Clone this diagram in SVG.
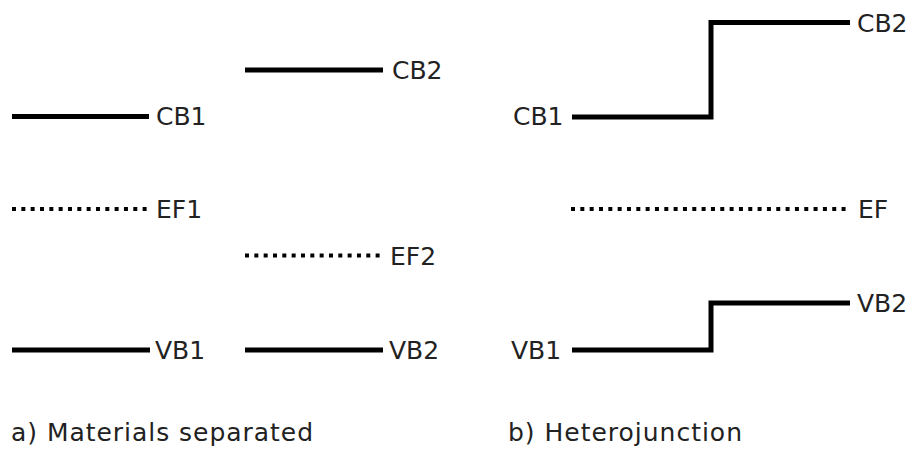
<svg xmlns="http://www.w3.org/2000/svg" width="915" height="451" viewBox="0 0 915 451">
<style>
.band{fill:none;stroke:#000;stroke-width:5;stroke-linejoin:miter}
.fermi{fill:none;stroke:#000;stroke-width:4;stroke-dasharray:4 5.33}
text{font-family:"DejaVu Sans",sans-serif;font-size:25px;fill:#222}
</style>
<rect width="915" height="451" fill="#fff"/>
<g id="connectors">
<line id="cb1-a" class="band" x1="12" y1="116.5" x2="149" y2="116.5"/>
<line id="cb2-a" class="band" x1="245" y1="70" x2="383" y2="70"/>
<line id="ef1-a" class="fermi" x1="12" y1="209" x2="148" y2="209"/>
<line id="ef2-a" class="fermi" x1="245" y1="255.5" x2="381" y2="255.5"/>
<line id="vb1-a" class="band" x1="12" y1="350" x2="150" y2="350"/>
<line id="vb2-a" class="band" x1="245" y1="350" x2="383" y2="350"/>
<polyline id="cb-b" class="band" points="572,117 711,117 711,22.5 850,22.5"/>
<line id="ef-b" class="fermi" x1="571" y1="209" x2="847" y2="209"/>
<polyline id="vb-b" class="band" points="572,350 711,350 711,303 850,303"/>
</g>
<g id="labels-a">
<text x="156" y="125">CB1</text>
<text x="392" y="79">CB2</text>
<text x="156" y="218">EF1</text>
<text x="390" y="265">EF2</text>
<text x="155" y="359">VB1</text>
<text x="389" y="359">VB2</text>
<text x="11" y="441" textLength="302" lengthAdjust="spacing">a) Materials separated</text>
</g>
<g id="labels-b">
<text x="513" y="125">CB1</text>
<text x="857" y="32">CB2</text>
<text x="858" y="218">EF</text>
<text x="511" y="359">VB1</text>
<text x="857" y="312">VB2</text>
<text x="508" y="441" textLength="234" lengthAdjust="spacing">b) Heterojunction</text>
</g>
</svg>
